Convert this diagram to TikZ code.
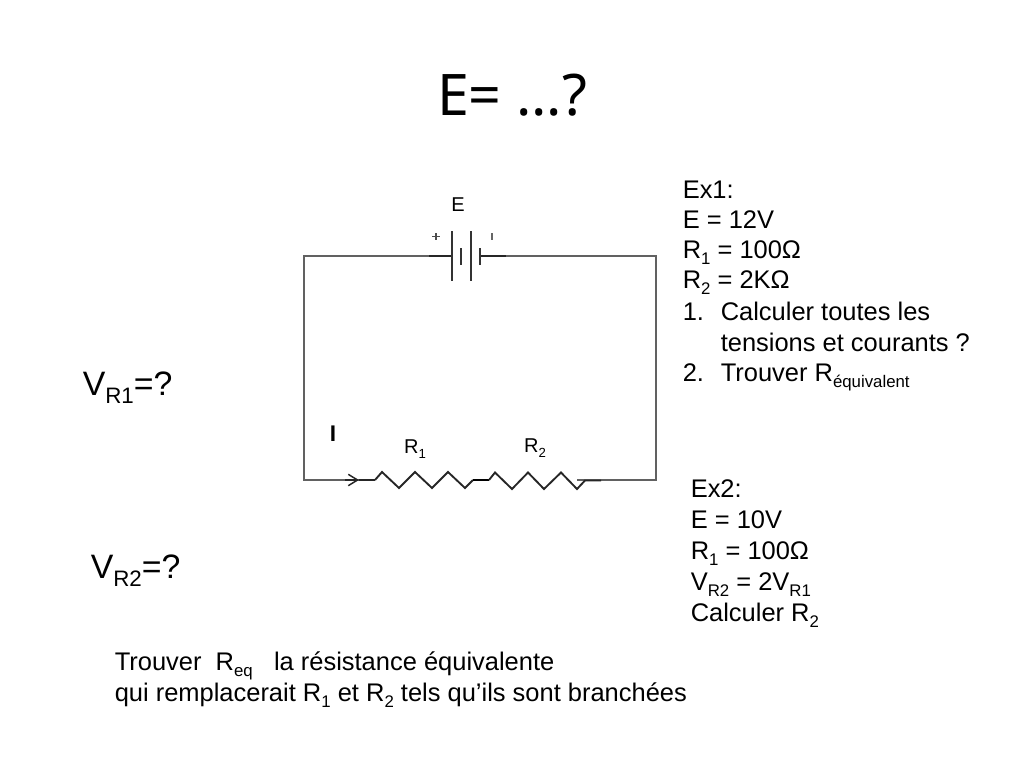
\documentclass[tikz,border=0pt]{standalone}
\usepackage{graphicx}
\usepackage{fontspec}
\setmainfont{Liberation Sans}
\newfontfamily\titlefont{Noto Sans}
\usetikzlibrary{arrows.meta}
\newcommand{\sbs}[1]{\raisebox{-0.26em}{\scalebox{0.66}{#1}}}
\tikzset{
  x=0.75pt,y=-0.75pt,
  wire/.style={draw=black!62,line width=1pt},
  lead/.style={draw=black!85,line width=1.1pt},
  zig/.style={draw=black!85,line width=1.4pt,line join=miter},
  plate/.style={draw=black!80,line width=1.2pt},
  txt/.style={anchor=base west,inner sep=0pt,font=\fontsize{19.1}{22}\selectfont,text=black},
  lbl/.style={anchor=base,inner sep=0pt,font=\fontsize{15}{18}\selectfont,text=black},
  big/.style={anchor=base west,inner sep=0pt,font=\fontsize{25.4}{30}\selectfont,text=black},
}
\begin{document}
\begin{tikzpicture}
\useasboundingbox (0,0) rectangle (1024,768);
\fill[white] (0,0) rectangle (1024,768);
\node[anchor=base,inner sep=0pt,font=\titlefont\fontsize{43}{46}\selectfont] (title) at (512,115.5) {E= …?};
% circuit
\coordinate (tl) at (304,256); \coordinate (tr) at (656,256);
\coordinate (bl) at (304,480); \coordinate (br) at (656,480);
\coordinate (batL) at (429,256); \coordinate (batR) at (506,256);
\coordinate (p1) at (452,256); \coordinate (p4) at (480,256);
\coordinate (arr) at (359,480); \coordinate (r1a) at (375,480);
\coordinate (r1b) at (473,480); \coordinate (r2a) at (489,480);
\coordinate (r2b) at (585,480.5); \coordinate (r2c) at (601,480.5); \coordinate (w2) at (577,480);
\draw[wire] (batL) -- (tl) -- (bl) -- (arr);
\draw[wire] (batR) -- (tr) -- (br) -- (w2);
\draw[lead] (batL) -- (p1);
\draw[lead] (p4) -- (batR);
\draw[plate] (452,231) -- (452,281);
\draw[plate] (461,248) -- (461,265);
\draw[plate] (471,231) -- (471,281);
\draw[plate] (480,248) -- (480,265);
\draw[black!70,line width=0.9pt] (432,236.5) -- (440,236.5) (436,233) -- (436,240);
\draw[black!60,line width=0.9pt] (492,233) -- (492,240);
\draw[lead,-{Straight Barb[length=7pt,width=8.5pt]}] (345,480) -- (arr);
\draw[lead] (arr) -- (r1a);
\draw[zig] (r1a) -- (382,472) -- (399,488) -- (415,472) -- (432,488) -- (448,472) -- (465,488) -- (r1b);
\draw[black,line width=2.2pt] (r1b) -- (r2a);
\draw[zig] (r2a) -- (495,472.5) -- (512,489) -- (528,472.5) -- (544,489) -- (561,472.5) -- (577,489) -- (r2b) -- (r2c);
\node[lbl] (lE) at (458,211) {E};
\node[lbl] (lR1) at (415,453) {R\sbs{1}};
\node[lbl] (lR2) at (535,452) {R\sbs{2}};
\node[anchor=base,inner sep=0pt,font=\bfseries\fontsize{17}{20}\selectfont] (lI) at (333,441) {I};
% texts
\node[txt] (e1a) at (682.5,198) {Ex1:};
\node[txt] (e1b) at (682.5,228) {E = 12V};
\node[txt] (e1c) at (682.5,258) {R\sbs{1} = 100Ω};
\node[txt] (e1d) at (682.5,288) {R\sbs{2} = 2KΩ};
\node[txt] (e1e) at (682.5,320) {1.};
\node[txt] (e1f) at (720.5,320) {Calculer toutes les};
\node[txt] (e1g) at (720.5,351) {tensions et courants ?};
\node[txt] (e1h) at (682.5,381) {2.};
\node[txt] (e1i) at (720.5,381) {Trouver R\sbs{équivalent}};
\node[txt] (e2a) at (690.5,497) {Ex2:};
\node[txt] (e2b) at (690.5,528) {E = 10V};
\node[txt] (e2c) at (690.5,559) {R\sbs{1} = 100Ω};
\node[txt] (e2d) at (690.5,590) {V\sbs{R2} = 2V\sbs{R1}};
\node[txt] (e2e) at (690.5,621) {Calculer R\sbs{2}};
\node[big] (v1) at (82.5,395) {V\sbs{R1}=?};
\node[big] (v2) at (90.5,578) {V\sbs{R2}=?};
\node[txt] (t1) at (114.5,670) {Trouver~~R\sbs{eq}~~~la résistance équivalente};
\node[txt] (t2) at (114.5,701) {qui remplacerait R\sbs{1} et R\sbs{2} tels qu’ils sont branchées};
\end{tikzpicture}
\end{document}
